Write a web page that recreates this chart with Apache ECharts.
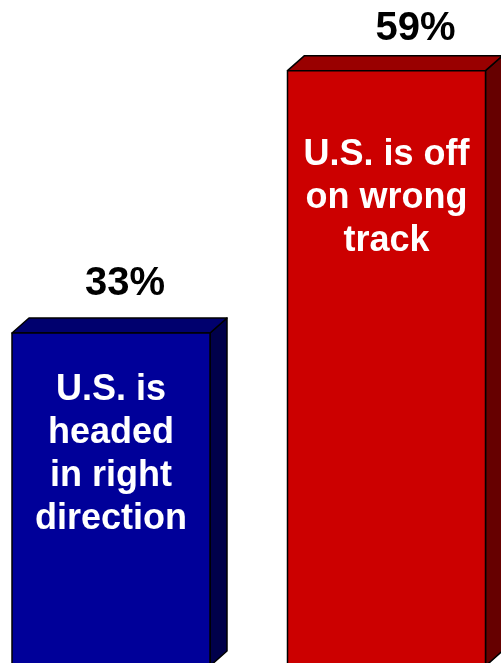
<!DOCTYPE html>
<html>
<head>
<meta charset="utf-8">
<script src="https://cdn.jsdelivr.net/npm/echarts@6/dist/echarts.min.js"></script>
<style>
  html, body { margin: 0; padding: 0; background: #fff; }
  #chart { width: 501px; height: 663px; }
</style>
</head>
<body>
<div id="chart"></div>
<script>
// data
const categories = ['Right direction', 'Wrong track']
const values = [33, 59]
const innerTexts = ['U.S. is\nheaded\nin right\ndirection', 'U.S. is off\non wrong\ntrack']

// styles
const frontColors = ['#000099', '#cc0000']
const topColors = ['#00006e', '#990000']
const sideColors = ['#00004a', '#660000']
const barWidth = 198
const depthX = 17
const depthY = 15
// label placement relative to bar front (center x, top y)
const valueLabelShift = [[14, -49], [29, -42]]
const innerLabelShift = [[0, 122], [0, 127]]
const font = '"Liberation Sans", Arial, sans-serif'

const chart = echarts.init(document.getElementById('chart'))

function renderBar(params, api) {
  const idx = params.dataIndex
  const top = api.coord([idx, api.value(1)])
  const base = api.coord([idx, 0])
  const cx = top[0]
  const l = cx - barWidth / 2
  const r = cx + barWidth / 2
  const t = top[1]
  const b = base[1]
  const stroke = { stroke: '#000', lineWidth: 1.5, lineJoin: 'round' }
  return {
    type: 'group',
    children: [
      {
        type: 'polygon',
        shape: { points: [[r, t], [r + depthX, t - depthY], [r + depthX, b - depthY], [r, b]] },
        style: Object.assign({ fill: sideColors[idx] }, stroke)
      },
      {
        type: 'polygon',
        shape: { points: [[l, t], [l + depthX, t - depthY], [r + depthX, t - depthY], [r, t]] },
        style: Object.assign({ fill: topColors[idx] }, stroke)
      },
      {
        type: 'rect',
        shape: { x: l, y: t, width: barWidth, height: b - t },
        style: Object.assign({ fill: frontColors[idx] }, stroke)
      },
      {
        type: 'text',
        x: cx + valueLabelShift[idx][0],
        y: t + valueLabelShift[idx][1],
        style: {
          text: values[idx] + '%',
          fill: '#000',
          font: 'bold 40px ' + font,
          align: 'center',
          verticalAlign: 'middle'
        }
      },
      {
        type: 'text',
        x: cx + innerLabelShift[idx][0],
        y: t + innerLabelShift[idx][1],
        style: {
          text: innerTexts[idx],
          fill: '#fff',
          font: 'bold 36px ' + font,
          lineHeight: 43,
          align: 'center',
          verticalAlign: 'middle'
        }
      }
    ]
  }
}

chart.setOption({
  animation: false,
  // categories sit on the grid edges (boundaryGap false)
  grid: { left: 111, right: 114.5, top: 0, bottom: 0 },
  xAxis: {
    type: 'category',
    data: categories,
    boundaryGap: false,
    show: false
  },
  // baseline sits just below the visible area, so min is slightly above 0
  yAxis: {
    type: 'value',
    min: 0.3,
    max: 66,
    show: false
  },
  series: [{
    type: 'custom',
    renderItem: renderBar,
    clip: false,
    data: categories.map((c, i) => [i, values[i]])
  }]
})
</script>
</body>
</html>
